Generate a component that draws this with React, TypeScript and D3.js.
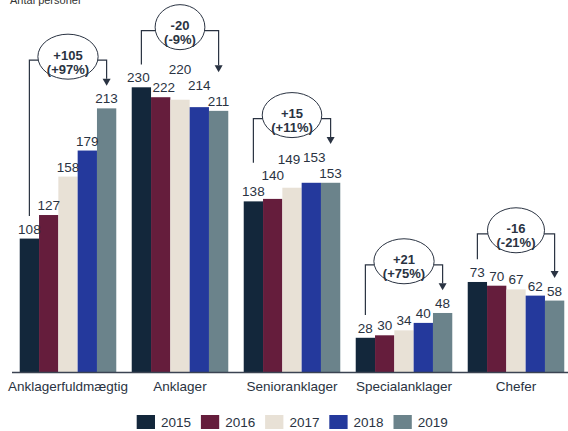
import * as d3 from "d3";

document.body.style.margin = "0";

const categories = ["Anklagerfuldmægtig", "Anklager", "Senioranklager", "Specialanklager", "Chefer"];
const years = ["2015", "2016", "2017", "2018", "2019"];
const values2015 = [108, 230, 138, 28, 73];
const values2016 = [127, 222, 140, 30, 70];
const values2017 = [158, 220, 149, 34, 67];
const values2018 = [179, 214, 153, 40, 62];
const values2019 = [213, 211, 153, 48, 58];
const deltaLabels = ["+105", "-20", "+15", "+21", "-16"];
const pctLabels = ["(+97%)", "(-9%)", "(+11%)", "(+75%)", "(-21%)"];
const colors = ["#13273b", "#651d3c", "#e8e1d6", "#24399c", "#6b838b"];

const series = [values2015, values2016, values2017, values2018, values2019];
const W = 568, H = 431;
const FONT = "Liberation Sans";
const INK = "#2a3342";
const FS = 13.5;
const AFS = 13;

const canvas = document.createElement("canvas");
const ctx = canvas.getContext("2d");
function measure(s: string, size: number, bold = false) {
  if (!ctx) return s.length * size * 0.556;
  ctx.font = `${bold ? "bold " : ""}${size}px "Liberation Sans"`;
  return ctx.measureText(s).width;
}

const x0 = d3.scaleBand<string>().domain(categories).range([12, 572]).paddingInner(0.138).paddingOuter(0.069);
const x1 = d3.scaleBand<string>().domain(years).range([0, x0.bandwidth()]);
const y = d3.scaleLinear().domain([0, 230]).range([372.5, 87.3]);

type Lab = { i: number; v: number; x: number; y: number; w: number; lifted: boolean };

// place value labels above bars, lifting the ones that would collide
function layoutGroup(c: number) {
  const gx = x0(categories[c])!;
  const labs: Lab[] = years.map((yr, i) => {
    const v = series[i][c];
    return { i, v, x: gx + x1(yr)! + x1.bandwidth() / 2, y: y(v) - 5, w: measure(String(v), FS), lifted: false };
  });
  const order = [...labs].sort((a, b) => a.v - b.v || b.i - a.i);
  const placed: Lab[] = [];
  order.forEach((l) => {
    const hits = placed.filter((p) => Math.abs(p.x - l.x) < (p.w + l.w) / 2 && Math.abs(p.y - l.y) < 9.5);
    if (hits.length) {
      l.y = d3.min(hits, (p) => p.y)! - 16;
      l.lifted = true;
    }
    placed.push(l);
  });
  for (let i = 0; i < labs.length - 1; i++) {
    const a = labs[i], b = labs[i + 1];
    if (Math.abs(a.x - b.x) < (a.w + b.w) / 2 && Math.abs(a.y - b.y) < 12) {
      a.x -= 3;
      b.x += 3;
    }
  }
  const top = (l: Lab) => l.y - 9.7;
  const level = d3.min(labs, top)! - 33.5;
  const first = labs[0], last = labs[labs.length - 1];
  const leftX = gx + x1(years[0])! + x1.bandwidth() / 2;
  const rightX = gx + x1(years[years.length - 1])! + x1.bandwidth() / 2;
  const leftEnd = Math.min(top(first), labs[1].lifted ? top(labs[1]) : Infinity) - 8;
  const rightEnd = Math.min(top(last), labs[labs.length - 2].lifted ? top(labs[labs.length - 2]) : Infinity) - 8;
  return { labs, level, leftX, rightX, leftEnd, rightEnd };
}

export default function App() {
  const groups = categories.map((_, c) => layoutGroup(c));
  return (
    <svg width={W} height={H} style={{ display: "block" }} fontFamily={FONT}>
      <text x={10} y={4} fontSize={11} fill="#333" fontFamily={FONT}>Antal personer</text>

      {categories.map((cat, c) =>
        years.map((yr, i) => {
          const v = series[i][c];
          return (
            <rect key={cat + yr} x={x0(cat)! + x1(yr)!} y={y(v)} width={x1.bandwidth()}
              height={y(0) - y(v)} fill={colors[i]} />
          );
        })
      )}

      <line x1={12} x2={568} y1={y(0)} y2={y(0)} stroke="#3b4352" strokeWidth={1.5} />

      {categories.map((cat) => (
        <text key={cat} x={x0(cat)! + x0.bandwidth() / 2} y={390.5} fontSize={FS} textAnchor="middle" fill={INK} fontFamily={FONT}>
          {cat}
        </text>
      ))}

      {groups.map((g, c) =>
        g.labs.map((l) => (
          <text key={c + "-" + l.i} x={l.x} y={l.y} fontSize={FS} textAnchor="middle" fill={INK} fontFamily={FONT}>
            {l.v}
          </text>
        ))
      )}

      {groups.map((g, c) => {
        const cx = (g.leftX + g.rightX) / 2;
        const cy = g.level - 3.5;
        const rx = measure(pctLabels[c], AFS, true) / 2 + 9;
        const ah = 7, aw = 4;
        return (
          <g key={"ann" + c}>
            <path
              d={`M${g.leftX},${g.leftEnd}V${g.level}H${g.rightX}V${g.rightEnd - ah}`}
              fill="none" stroke={INK} strokeWidth={1.2} />
            <path
              d={`M${g.rightX - aw},${g.rightEnd - ah}L${g.rightX + aw},${g.rightEnd - ah}L${g.rightX},${g.rightEnd}Z`}
              fill={INK} />
            <ellipse cx={cx} cy={cy} rx={rx} ry={22.5} fill="#fff" stroke={INK} strokeWidth={1} />
            <text x={cx} y={cy + 3} fontSize={AFS} fontWeight="bold" textAnchor="middle" fill={INK} fontFamily={FONT}>
              {deltaLabels[c]}
            </text>
            <text x={cx} y={cy + 17} fontSize={AFS} fontWeight="bold" textAnchor="middle" fill={INK} fontFamily={FONT}>
              {pctLabels[c]}
            </text>
          </g>
        );
      })}

      {years.map((yr, i) => (
        <g key={"lg" + yr} transform={`translate(${136.7 + i * 64.2},415)`}>
          <rect width={18.3} height={14} fill={colors[i]} />
          <text x={24.3} y={12} fontSize={FS} fill={INK} fontFamily={FONT}>{yr}</text>
        </g>
      ))}
    </svg>
  );
}
